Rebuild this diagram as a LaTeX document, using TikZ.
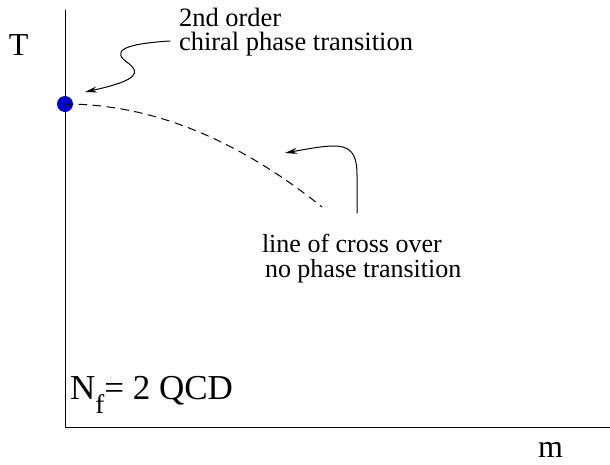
\documentclass[tikz,border=0pt]{standalone}
\usepackage{fontspec}
\setmainfont{Liberation Serif}
\usetikzlibrary{arrows.meta}
\definecolor{critblue}{RGB}{0,0,205}
\begin{document}
\begin{tikzpicture}[x=1pt,y=-1pt,line join=round,line cap=round,>={Stealth[length=12pt,width=6pt]}]
	\tikzset{every node/.style={inner sep=0pt,outer sep=0pt},
		lbl/.style={font=\fontsize{26.5}{24}\selectfont,align=left,anchor=base west},
		axlbl/.style={font=\fontsize{32}{32}\selectfont,anchor=base west}}
	\useasboundingbox (0,0) rectangle (610,464);
	% axes
	\coordinate (O) at (65,427);
	\draw[line width=1pt] (65,10) -- (O) -- (610,427);
	\node[axlbl] (T) at (9,55) {T};
	\node[axlbl] (m) at (538,457) {m};
	% critical point and line of cross over
	\coordinate (crit) at (65,104);
	\fill[critblue] (crit) circle (8);
	\draw[line width=1pt,dash pattern=on 8pt off 6pt] (crit) .. controls (150.7,104) and (236.3,138.3) .. (322,207) coordinate (xend);
	% texts (base = last line)
	\node[lbl] (order) at (179,50) {2nd order\\chiral phase transition};
	\node[lbl,font=\fontsize{26}{25}\selectfont] (cross) at (262,277) {line of cross over\\\hspace{3pt}no phase transition};
	\node[lbl,font=\fontsize{35}{35}\selectfont] (qcd) at (70,399) {N\raisebox{-14pt}{\fontsize{27}{27}\selectfont f}= 2 QCD};
	% arrows
	\coordinate (a1) at (85,92);
	\coordinate (a2) at (285,153);
	\draw[->,line width=1pt] ([shift={(-9,-9)}]order.base west) .. controls (120,44) and (112,52) .. (128,63)
		.. controls (140,72) and (140,80) .. (a1);
	\draw[->,line width=1pt] ([shift={(95,-64)}]cross.base west) -- (357,175) .. controls (357,140) and (340,143) .. (a2);
\end{tikzpicture}
\end{document}
